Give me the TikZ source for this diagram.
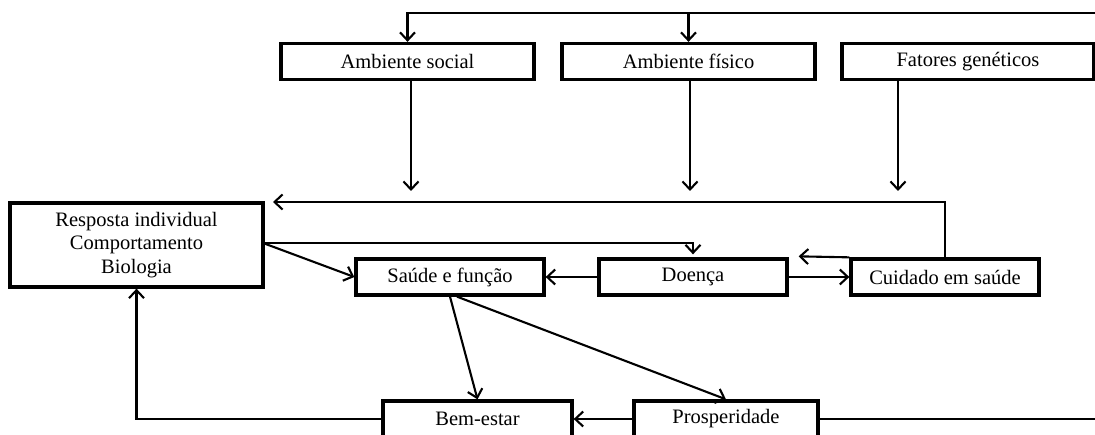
\documentclass[tikz,border=0pt]{standalone}
\usepackage{fontspec}
\setmainfont{Liberation Serif}
\usetikzlibrary{arrows.meta,calc}
\begin{document}
\begin{tikzpicture}[x=1pt,y=-1pt,
  box/.style={draw,line width=3.3pt,minimum width=#1,minimum height=36pt,inner sep=0pt,
    font=\fontsize{20.5}{23.5}\selectfont,align=center},
  arr/.style={line width=2.1pt,-{Straight Barb[length=8pt,width=15pt,line width=2.1pt]}},
  ln/.style={line width=2.1pt}]
\useasboundingbox (0,0) rectangle (1095,435);
\clip (0,0) rectangle (1095,435);

% boxes
\node[box=253pt] (soc)    at (407.5,61.5) {Ambiente social};
\node[box=253pt] (fis)    at (688.5,61.5) {Ambiente físico};
\node[box=252pt] (gen)    at (968,61.5)   {Fatores genéticos};
\node[box=253pt,minimum height=84pt] (resp) at (136.5,245)
  {Resposta individual\\Comportamento\\Biologia};
\node[box=188pt] (saude)  at (450,277)  {Saúde e função};
\node[box=188pt] (doenca) at (693,277)  {Doença};
\node[box=188pt] (cuid)   at (945,277)  {Cuidado em saúde};
\node[box=189pt] (bem)    at (477.5,419) {Bem-estar};
\node[box=184pt] (prosp)  at (726,419)  {Prosperidade};

% free ends and bends
\coordinate (topR) at (1100,13);
\coordinate (botR) at (1100,419);
\coordinate (a1) at (411,191);
\coordinate (a2) at (690,191);
\coordinate (a3) at (898,191);
\coordinate (bar) at (273,202);
\coordinate (rout) at (263,243);

% loop along the top into the environment boxes
\draw[arr] (topR) -| (soc.north);
\draw[arr] (fis.north |- topR) -- (fis.north);

% environment and genetic factors point down to the feedback bar
\draw[arr] (soc.south -| a1) -- (a1);
\draw[arr] (fis.south -| a2) -- (a2);
\draw[arr] (gen.south -| a3) -- (a3);

% health care feeds back to the individual response
\draw[arr] (cuid.north) |- (bar);

% individual response outputs
\draw[arr,shorten >=3pt] (rout) -| (doenca.north);
\draw[arr] (rout) -- (saude.west);

% middle row
\draw[arr] (doenca.west) -- (saude.east);
\draw[arr] (doenca.east) -- (cuid.west);
\draw[arr] (cuid.north west) -- ($(doenca.north east)+(10,-1)$);

% outcomes
\draw[arr] (saude.south) -- (bem.north);
\draw[arr] ($(saude.south)+(7,0)$) -- (prosp.north);
\draw[arr] (prosp.west) -- (bem.east);
\draw[arr] (bem.west) -| (resp.south);
\draw[ln] (prosp.east) -- (botR);
\end{tikzpicture}
\end{document}
